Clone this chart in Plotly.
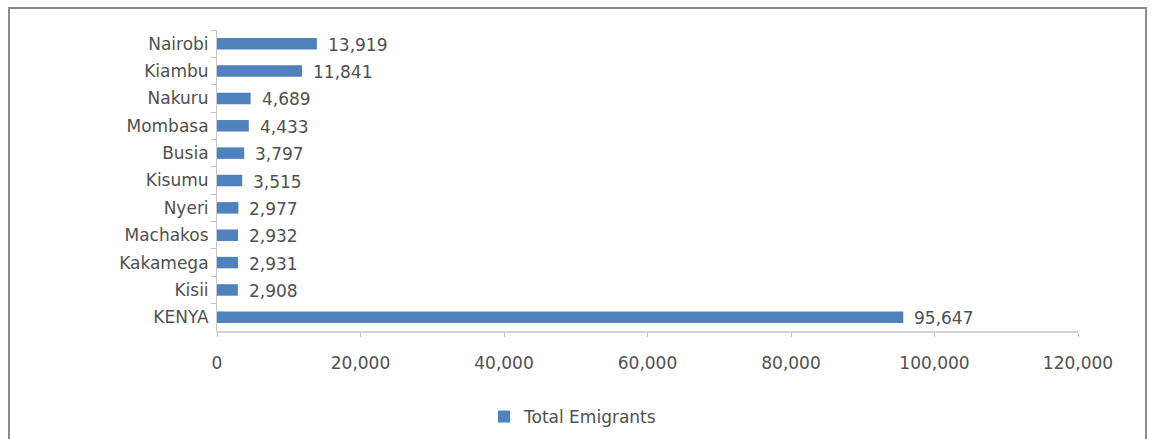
import plotly.graph_objects as go

counties = ["Nairobi", "Kiambu", "Nakuru", "Mombasa", "Busia", "Kisumu",
            "Nyeri", "Machakos", "Kakamega", "Kisii", "KENYA"]
emigrants = [13919, 11841, 4689, 4433, 3797, 3515, 2977, 2932, 2931, 2908, 95647]
series_name = "Total Emigrants"
x_ticks = [0, 20000, 40000, 60000, 80000, 100000, 120000]

W, H = 1151, 439
L, R, T, B = 217, 73, 30, 108
pw, ph = W - L - R, H - T - B

def px(x):
    return (x - L) / pw

def py(y):
    return (H - B - y) / ph

font = "'DejaVu Sans', Verdana, sans-serif"
txt = "#505050"
fs = 17

fig = go.Figure(go.Bar(
    x=emigrants, y=counties, orientation="h", name=series_name,
    marker=dict(color="#4F81BD", line=dict(width=0)),
    width=0.42, showlegend=True,
))

for v, c in zip(emigrants, counties):
    fig.add_annotation(x=v, y=c, xref="x", yref="y", text=f"{v:,}",
                       showarrow=False, xanchor="left", yanchor="middle",
                       xshift=9, yshift=-1,
                       font=dict(size=fs, color=txt, family=font))

fig.update_layout(
    width=W, height=H,
    margin=dict(l=L, r=R, t=T, b=B, pad=0, autoexpand=False),
    paper_bgcolor="white", plot_bgcolor="white",
    font=dict(family=font, size=fs, color=txt),
    showlegend=True,
    legend=dict(orientation="h", x=px(484), xanchor="left", y=py(417), yanchor="middle",
                font=dict(size=fs, color=txt, family=font), itemwidth=30),
    xaxis=dict(range=[0, 120000], tickvals=x_ticks, tickformat=",",
               showgrid=False, zeroline=False, automargin=False,
               showline=True, linecolor="#d4d4d4", linewidth=2,
               ticks="outside", ticklen=4, tickcolor="#c0c0c0",
               ticklabelstandoff=12,
               tickfont=dict(size=fs, color=txt), fixedrange=True),
    yaxis=dict(categoryorder="array", categoryarray=counties, autorange="reversed",
               showgrid=False, zeroline=False, automargin=False,
               showline=True, linecolor="#c8c8c8", linewidth=1,
               ticks="outside", ticklen=5, tickcolor="#c0c0c0", tickson="boundaries",
               ticklabelstandoff=4,
               tickfont=dict(size=fs, color=txt), fixedrange=True),
    shapes=[dict(type="rect", xref="paper", yref="paper",
                 x0=px(9), x1=px(1146), y0=py(450), y1=py(8),
                 line=dict(color="#8c8c8c", width=2), fillcolor="rgba(0,0,0,0)",
                 layer="below")],
)

fig.write_html("out.html", config={"displayModeBar": False},
               post_script="document.body.style.margin='0';")
